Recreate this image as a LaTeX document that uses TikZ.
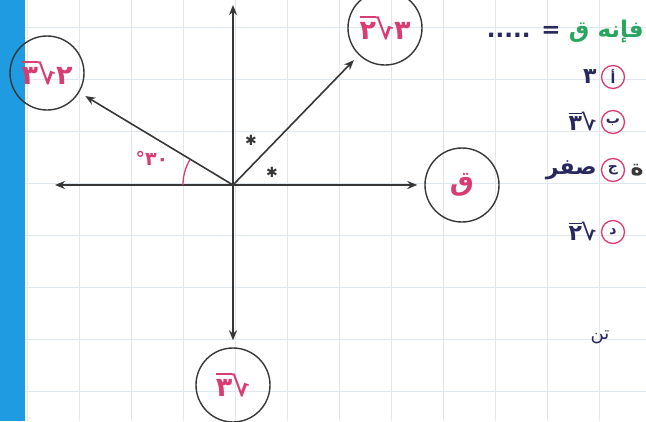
\documentclass[tikz,border=0pt]{standalone}
\usepackage{fontspec}
\usetikzlibrary{arrows.meta, positioning}
\newfontfamily\arabicfont[Script=Arabic]{DejaVu Sans}
\TeXXeTstate=1
\definecolor{gridline}{RGB}{224,231,236}
\definecolor{sidebar}{RGB}{30,155,225}
\definecolor{forcepink}{RGB}{215,60,115}
\definecolor{qgreen}{RGB}{40,165,95}
\definecolor{inkblue}{RGB}{40,40,95}
\definecolor{ink}{RGB}{55,55,55}
% radicand with bar, mirrored root sign, coefficient
\newcommand{\jadr}[2]{\setbox0\hbox{#1}\setbox2\hbox{√}%
  \rlap{\raise\dimexpr\ht2-1.6pt\relax\hbox{\rule{\wd0}{1.6pt}}}\box0\reflectbox{√}#2}

\begin{document}
\begin{tikzpicture}[
    x=1pt, y=-1pt,
    force/.style={circle, draw=ink, line width=1.4pt, minimum size=74pt, inner sep=0pt, text=forcepink, font=\arabicfont\bfseries\fontsize{27}{29}\selectfont},
    choice/.style={circle, draw=forcepink, line width=1.3pt, minimum size=23pt, inner sep=0pt, text=inkblue, font=\arabicfont\bfseries\fontsize{14}{15}\selectfont},
    answer/.style={text=inkblue, inner sep=1pt, font=\arabicfont\bfseries\fontsize{22}{24}\selectfont},
    asterisk/.style={text=ink, inner sep=0pt, font=\arabicfont\fontsize{14}{14}\selectfont},
    arrow/.style={-{Stealth[length=10pt, width=8pt]}, line width=1.6pt, ink, shorten >=7pt}
]
\clip (0,0) rectangle (646,421);
\fill[white] (0,0) rectangle (646,421);
\foreach \gx in {27,79,...,646} \draw[gridline, line width=0.8pt] (\gx,0) -- (\gx,421);
\foreach \gy in {27,79,...,421} \draw[gridline, line width=0.8pt] (0,\gy) -- (646,\gy);
\fill[sidebar] (0,0) rectangle (25,421);

% Nodes
\coordinate (o) at (233,185);
\coordinate (xl) at (55,185);
\coordinate (yt) at (233,5);
\node[force] (f1) at (47,73) {\jadr{٣}{٢}};
\node[force] (f2) at (385,28) {\jadr{٢}{٣}};
\node[force] (q) at (462,185) {ق};
\node[force] (f3) at (233,385) {\jadr{٣}{}};

% Arrows
\draw[arrow, shorten >=0pt] (o) -- (xl);
\draw[arrow, shorten >=0pt] (o) -- (yt);
\draw[arrow] (o) -- (f1);
\draw[arrow] (o) -- (f2);
\draw[arrow] (o) -- (q);
\draw[arrow] (o) -- (f3);

% Angles
\draw[forcepink, line width=1.3pt] (o) ++(180:50) arc[start angle=180, end angle=210, radius=50];
\node[text=forcepink, font=\arabicfont\bfseries\fontsize{19}{19}\selectfont] (ang) at (152,158) {\hbox{°}\hbox{٣٠}};
\node[asterisk] (s1) at (251,140) {✱};
\node[asterisk] (s2) at (272,172) {✱};

% Question and choices
\node[anchor=east, inner sep=1pt, text=qgreen, font=\arabicfont\bfseries\fontsize{23}{25}\selectfont] (qline) at (645,32) {\beginR فإنه ق\endR};
\node[left=6pt of qline, inner sep=1pt, text=inkblue, font=\arabicfont\bfseries\fontsize{23}{25}\selectfont] (qdots) {..... =};
\node[choice] (cha) at (613,77) {أ};
\node[choice] (chb) at (613,122) {ب};
\node[choice] (chc) at (613,170) {ج};
\node[choice] (chd) at (613,232) {د};
\node[answer, left=3pt of cha] (ansa) {٣};
\node[answer, left=3pt of chb] (ansb) {\jadr{٣}{}};
\node[answer, left=3pt of chc] (ansc) {\beginR صفر\endR};
\node[answer, left=3pt of chd] (ansd) {\jadr{٢}{}};
\node[answer, text=ink] (frag1) at (637,170) {\beginR ة\endR};
\node[answer, text=inkblue, font=\arabicfont\fontsize{18}{20}\selectfont] (frag2) at (600,337) {\beginR تن\endR};
\end{tikzpicture}
\end{document}
